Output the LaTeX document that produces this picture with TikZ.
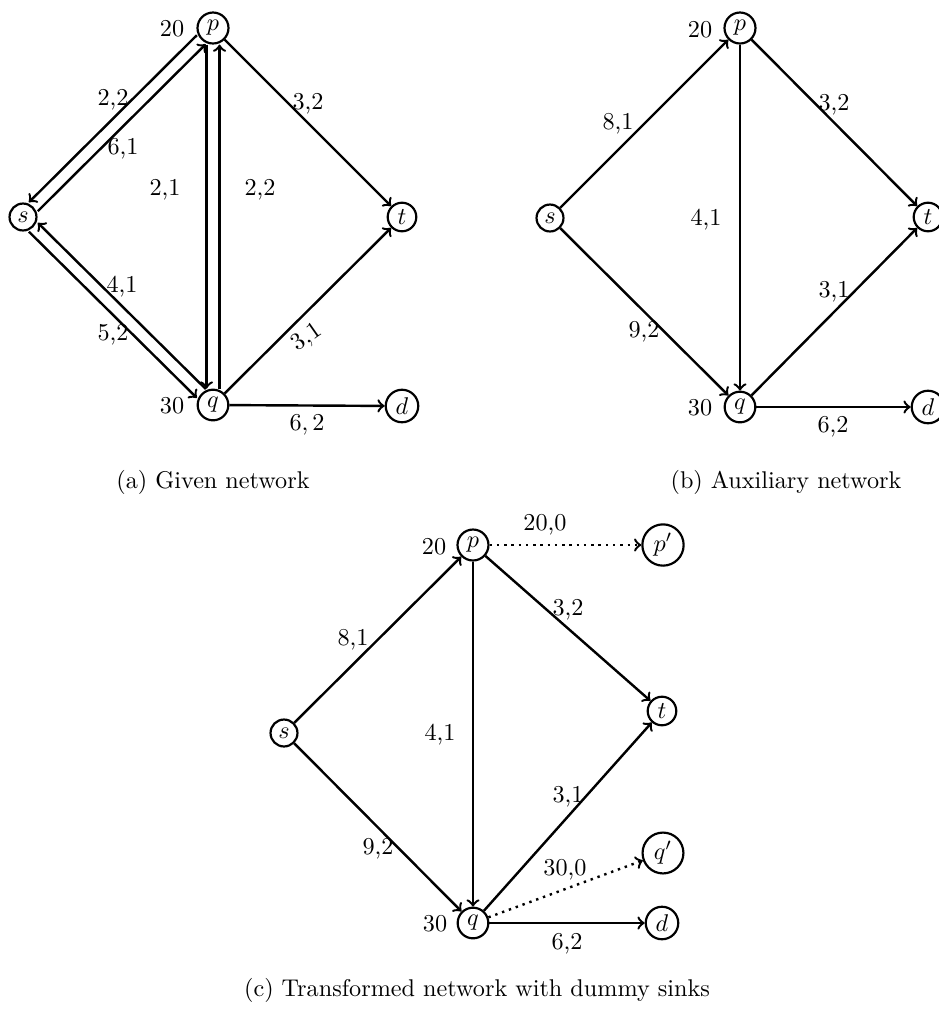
\documentclass[tikz,border=0pt]{standalone}
\begin{document}
\begin{tikzpicture}[x=0.4132pt,y=-0.4132pt,
  vtx/.style={circle,draw,line width=0.9pt,inner sep=1.7pt},
  arc/.style={->,line width=1pt},
  dum/.style={->,line width=1pt,dotted},
  lbl/.style={inner sep=0pt},
  capt/.style={inner sep=0pt}]
\useasboundingbox (0,0) rectangle (938,1011);
% ---------------- (a) Given network
\node[vtx] (ap) at (213,28) {$p$};
\node[vtx] (as) at (23,217) {$s$};
\node[vtx] (at) at (402,217) {$t$};
\node[vtx] (aq) at (213,405) {$q$};
\node[vtx] (ad) at (402,406) {$d$};
\node[lbl] (a20) at (172,29) {20};
\node[lbl] (a30) at (172,406) {30};
\draw[arc, transform canvas={shift={(135:2.6pt)}}] (ap) -- (as);
\draw[arc, transform canvas={shift={(-45:2.6pt)}}] (as) -- (ap);
\draw[arc, transform canvas={shift={(-2.7pt,0pt)}}] (ap) -- (aq);
\draw[arc, transform canvas={shift={(2.7pt,0pt)}}] (aq) -- (ap);
\draw[arc, transform canvas={shift={(45:2.6pt)}}] (aq) -- (as);
\draw[arc, transform canvas={shift={(225:2.6pt)}}] (as) -- (aq);
\draw[arc] (ap) -- (at);
\draw[arc] (aq) -- (at);
\draw[arc] (aq) -- (ad);
\node[lbl] (la1) at (113,100) {2,2};
\node[lbl] (la2) at (123,149) {6,1};
\node[lbl] (la3) at (165,190) {2,1};
\node[lbl] (la4) at (260,190) {2,2};
\node[lbl] (la5) at (308,104) {3,2};
\node[lbl] (la6) at (122,287) {4,1};
\node[lbl] (la7) at (113,335) {5,2};
\node[lbl,rotate=35] (la8) at (307,338) {3,1};
\node[lbl] (la9) at (307,425) {$6,2$};
\node[capt] (capa) at (213,482) {(a) Given network};
% ---------------- (b) Auxiliary network
\node[vtx] (bp) at (740,28) {$p$};
\node[vtx] (bs) at (550,218) {$s$};
\node[vtx] (bt) at (928,217) {$t$};
\node[vtx] (bq) at (740,407) {$q$};
\node[vtx] (bd) at (928,407) {$d$};
\node[lbl] (b20) at (700,30) {20};
\node[lbl] (b30) at (700,408) {30};
\draw[arc] (bs) -- (bp);
\draw[arc] (bp) -- (bq);
\draw[arc] (bp) -- (bt);
\draw[arc] (bs) -- (bq);
\draw[arc] (bq) -- (bt);
\draw[arc] (bq) -- (bd);
\node[lbl] (lb1) at (618,124) {8,1};
\node[lbl] (lb2) at (834,105) {3,2};
\node[lbl] (lb3) at (706,220) {4,1};
\node[lbl] (lb4) at (834,292) {3,1};
\node[lbl] (lb5) at (644,332) {9,2};
\node[lbl] (lb6) at (833,427) {6,2};
\node[capt] (capb) at (786,482) {(b) Auxiliary network};
% ---------------- (c) Transformed network
\node[vtx] (cp) at (473,545) {$p$};
\node[vtx] (cpp) at (663,545) {$p'$};
\node[vtx] (cs) at (284,733) {$s$};
\node[vtx] (ct) at (662,711) {$t$};
\node[vtx] (cq) at (473,923) {$q$};
\node[vtx] (cqq) at (663,853) {$q'$};
\node[vtx] (cd) at (662,923) {$d$};
\node[lbl] (c20) at (434,547) {20};
\node[lbl] (c30) at (435,924) {30};
\draw[arc] (cs) -- (cp);
\draw[arc] (cp) -- (cq);
\draw[arc] (cp) -- (ct);
\draw[arc] (cs) -- (cq);
\draw[arc] (cq) -- (ct);
\draw[arc] (cq) -- (cd);
\draw[dum] (cp) -- (cpp);
\draw[dum] (cq) -- (cqq);
\node[lbl] (lc0) at (545,525) {20,0};
\node[lbl] (lc1) at (353,640) {8,1};
\node[lbl] (lc2) at (568,610) {3,2};
\node[lbl] (lc3) at (440,735) {4,1};
\node[lbl] (lc4) at (568,797) {3,1};
\node[lbl] (lc5) at (378,849) {9,2};
\node[lbl] (lc6) at (565,870) {30,0};
\node[lbl] (lc7) at (567,944) {6,2};
\node[capt] (capc) at (477,990) {(c) Transformed network with dummy sinks};
\end{tikzpicture}
\end{document}
